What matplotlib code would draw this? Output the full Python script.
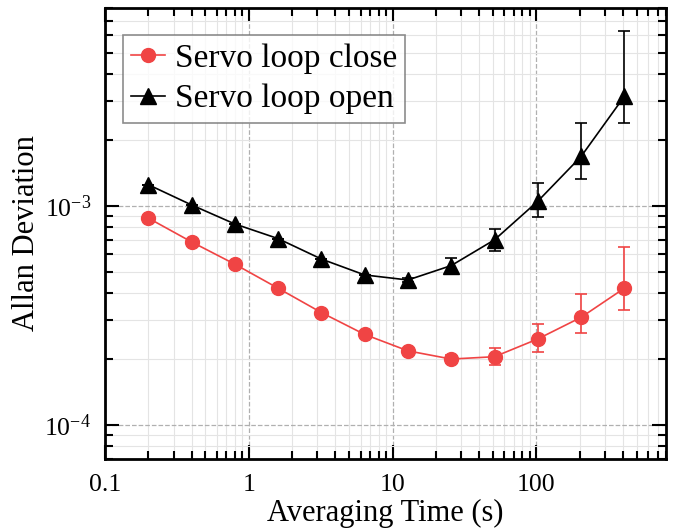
import matplotlib
matplotlib.use("Agg")
import matplotlib.pyplot as plt
import matplotlib.ticker as ticker

plt.rcParams['font.family'] = ['Liberation Serif', 'DejaVu Serif']
plt.rcParams['mathtext.fontset'] = 'stix'

# averaging times (s)
tau = [0.2, 0.4, 0.8, 1.6, 3.2, 6.4, 12.8, 25.6, 51.2, 102.4, 204.8, 409.6]

# servo loop closed
adev_close = [8.8e-4, 6.85e-4, 5.42e-4, 4.21e-4, 3.26e-4, 2.59e-4,
              2.18e-4, 2.0e-4, 2.05e-4, 2.47e-4, 3.10e-4, 4.21e-4]
close_lo = [0, 0, 0, 0, 0, 0, 0.05e-4, 0.09e-4, 0.17e-4, 0.32e-4, 0.48e-4, 0.86e-4]
close_hi = [0, 0, 0, 0, 0, 0, 0.05e-4, 0.09e-4, 0.20e-4, 0.42e-4, 0.85e-4, 2.27e-4]

# servo loop open
adev_open = [1.25e-3, 1.01e-3, 8.27e-4, 7.09e-4, 5.72e-4, 4.84e-4,
             4.59e-4, 5.34e-4, 7.0e-4, 1.05e-3, 1.68e-3, 3.16e-3]
open_lo = [0, 0, 0, 0, 0, 0, 0.1e-4, 0.45e-4, 0.8e-4, 1.62e-4, 0.35e-3, 0.78e-3]
open_hi = [0, 0, 0, 0, 0, 0, 0.1e-4, 0.42e-4, 0.88e-4, 2.2e-4, 0.70e-3, 3.14e-3]

fig, ax = plt.subplots(figsize=(6.77, 5.30), dpi=100)
fig.subplots_adjust(left=0.155, right=0.984, top=0.985, bottom=0.134)

red = "#f04444"
ax.errorbar(tau, adev_close, yerr=[close_lo, close_hi], fmt="none", ecolor=red,
            capsize=4, elinewidth=1.2, capthick=1.2, zorder=3)
ax.plot(tau, adev_close, "o-", color=red, ms=10, lw=1.2,
        label="Servo loop close", zorder=4)
ax.errorbar(tau, adev_open, yerr=[open_lo, open_hi], fmt="none", ecolor="black",
            capsize=4, elinewidth=1.2, capthick=1.2, zorder=3)
ax.plot(tau, adev_open, "^-", color="black", ms=11, lw=1.2,
        label="Servo loop open", zorder=4)

ax.set_xscale("log")
ax.set_yscale("log")
ax.set_xlim(0.1, 800)
ax.set_ylim(7.0e-5, 8.0e-3)

ax.xaxis.set_major_locator(ticker.LogLocator(base=10, numticks=10))
ax.xaxis.set_minor_locator(ticker.LogLocator(base=10, subs=range(2, 10), numticks=20))
ax.xaxis.set_major_formatter(ticker.FuncFormatter(lambda v, p: "%g" % v))
ax.yaxis.set_major_locator(ticker.LogLocator(base=10, numticks=10))
ax.yaxis.set_minor_locator(ticker.LogLocator(base=10, subs=range(2, 10), numticks=20))
ax.xaxis.set_minor_formatter(ticker.NullFormatter())
ax.yaxis.set_minor_formatter(ticker.NullFormatter())

ax.grid(which="major", color="#b0b0b0", ls="--", lw=0.9)
ax.grid(which="minor", color="#e4e4e4", ls="-", lw=0.8)

ax.tick_params(which="both", direction="in", top=True, right=True, labelsize=18.5,
               width=1.5)
ax.tick_params(axis="x", which="both", pad=11)
ax.tick_params(axis="y", which="both", pad=10)
ax.tick_params(which="major", length=10)
ax.tick_params(which="minor", length=6)
for s in ax.spines.values():
    s.set_linewidth(2)

ax.set_xlabel("Averaging Time (s)", fontsize=22, labelpad=2)
ax.set_ylabel("Allan Deviation", fontsize=22, labelpad=2)

leg = ax.legend(loc="upper left", fontsize=24, frameon=True, fancybox=False,
                edgecolor="#707070", borderpad=0.25, handlelength=1.0,
                handletextpad=0.3, labelspacing=0.3, borderaxespad=0,
                bbox_to_anchor=(0.032, 0.94))
leg.get_frame().set_linewidth(1.2)

fig.savefig("out.png", dpi=100)
